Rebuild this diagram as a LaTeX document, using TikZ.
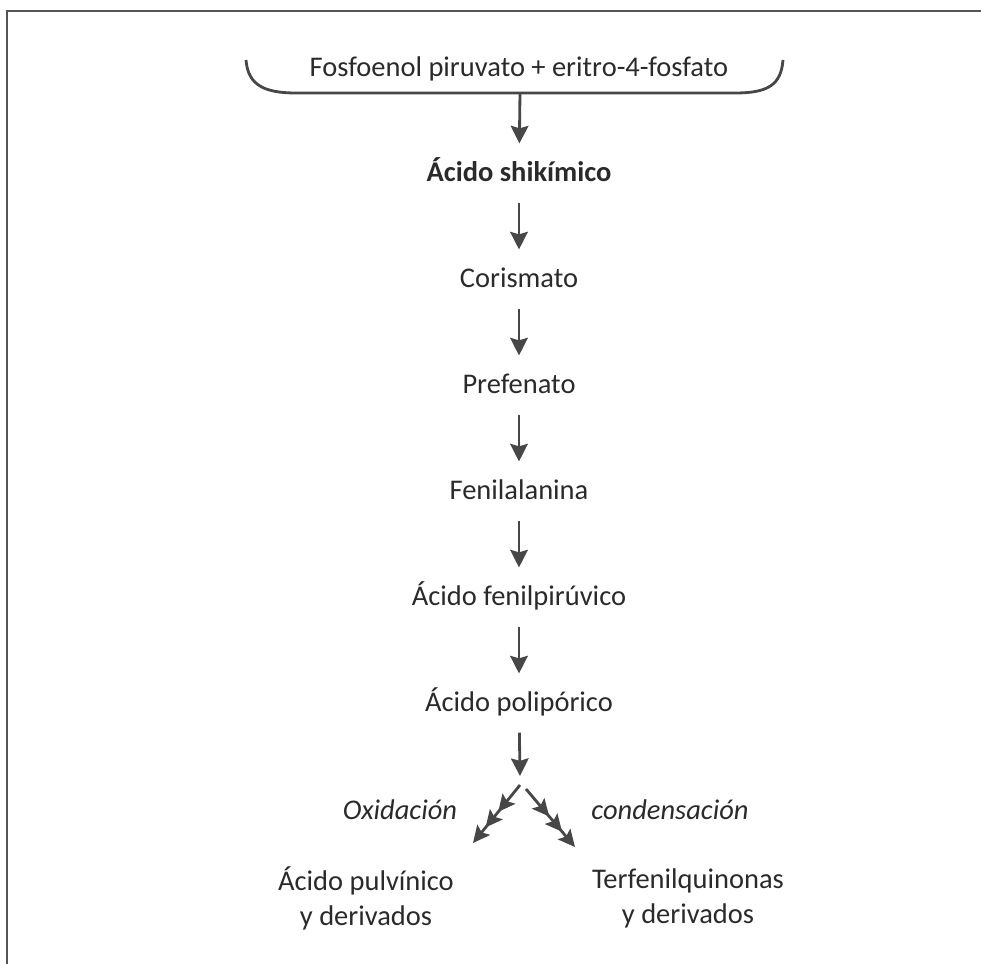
\documentclass[tikz,border=0pt]{standalone}
\usepackage{fontspec}
\setmainfont{Carlito}
\usepackage{tikz}
\usetikzlibrary{arrows.meta, positioning}
\usepackage{xcolor}
\definecolor{inkgray}{HTML}{2A2A2A}
\definecolor{arrowgray}{HTML}{474747}
\definecolor{framegray}{HTML}{555555}

\tikzset{
  stepnode/.style={inner xsep=2pt, inner ysep=3.7pt, text height=0.7em, text depth=0.2em},
  flow/.style={draw=arrowgray, line width=0.8pt, -{Stealth[length=5pt, width=5pt, inset=0.7pt]}},
  branch/.style={draw=arrowgray, line width=0.8pt,
    -{Stealth[length=4.8pt, width=4.6pt, inset=0.9pt, sep=0.9pt]
      Stealth[length=4.8pt, width=4.6pt, inset=0.9pt, sep=0.9pt]
      Stealth[length=4.8pt, width=4.6pt, inset=0.9pt]}}
}

\begin{document}
\begin{tikzpicture}[x=0.01cm, y=-0.01cm, font=\fontsize{8.1}{10}\selectfont, text=inkgray]
  \useasboundingbox (0,0) rectangle (981,964);

  % frame (top and left only)
  \draw[framegray, line width=0.8pt] (7,964) -- (7,11) -- (981,11);

  % starting substrates under a bracket
  \node (subst) at (519,69) {Fosfoenol piruvato + eritro-4-fosfato};
  \draw[arrowgray, line width=0.8pt]
    (246,60) .. controls (248,85) and (264,93) .. (296,93) -- (735,93)
    .. controls (768,93) and (781,85) .. (783,60);
  \coordinate (brk) at (520,93);

  % main pathway
  \node[stepnode, font=\fontsize{8.1}{10}\selectfont\bfseries] (shik) at (519,173) {Ácido shikímico};
  \foreach \n/\t/\y in {cor/Corismato/279, pre/Prefenato/385, fen/Fenilalanina/491,
                        fpir/Ácido fenilpirúvico/597, poli/Ácido polipórico/703} {
    \node[stepnode] (\n) at (519,\y) {\t};
  }

  \draw[flow] (brk) -- (shik);
  \foreach \a/\b in {shik/cor, cor/pre, pre/fen, fen/fpir, fpir/poli} {
    \draw[flow] (\a) -- (\b);
  }

  % split into two routes
  \coordinate (fork) at (520,776);
  \draw[flow] (poli) -- (fork);

  \coordinate (oxS) at (520,785);
  \coordinate (oxE) at (473,843);
  \coordinate (coS) at (526,789);
  \coordinate (coE) at (575,847);
  \draw[branch] (oxS) -- (oxE);
  \draw[branch] (coS) -- (coE);

  \node[font=\fontsize{8.1}{10}\selectfont\itshape] (oxlab) at (400,810) {Oxidación};
  \node[font=\fontsize{8.1}{10}\selectfont\itshape] (colab) at (670,810) {condensación};

  \node[align=center] (pulv) at (366,898) {Ácido pulvínico\\y derivados};
  \node[align=center] (terf) at (688,898) {Terfenilquinonas\\y derivados};
\end{tikzpicture}
\end{document}
